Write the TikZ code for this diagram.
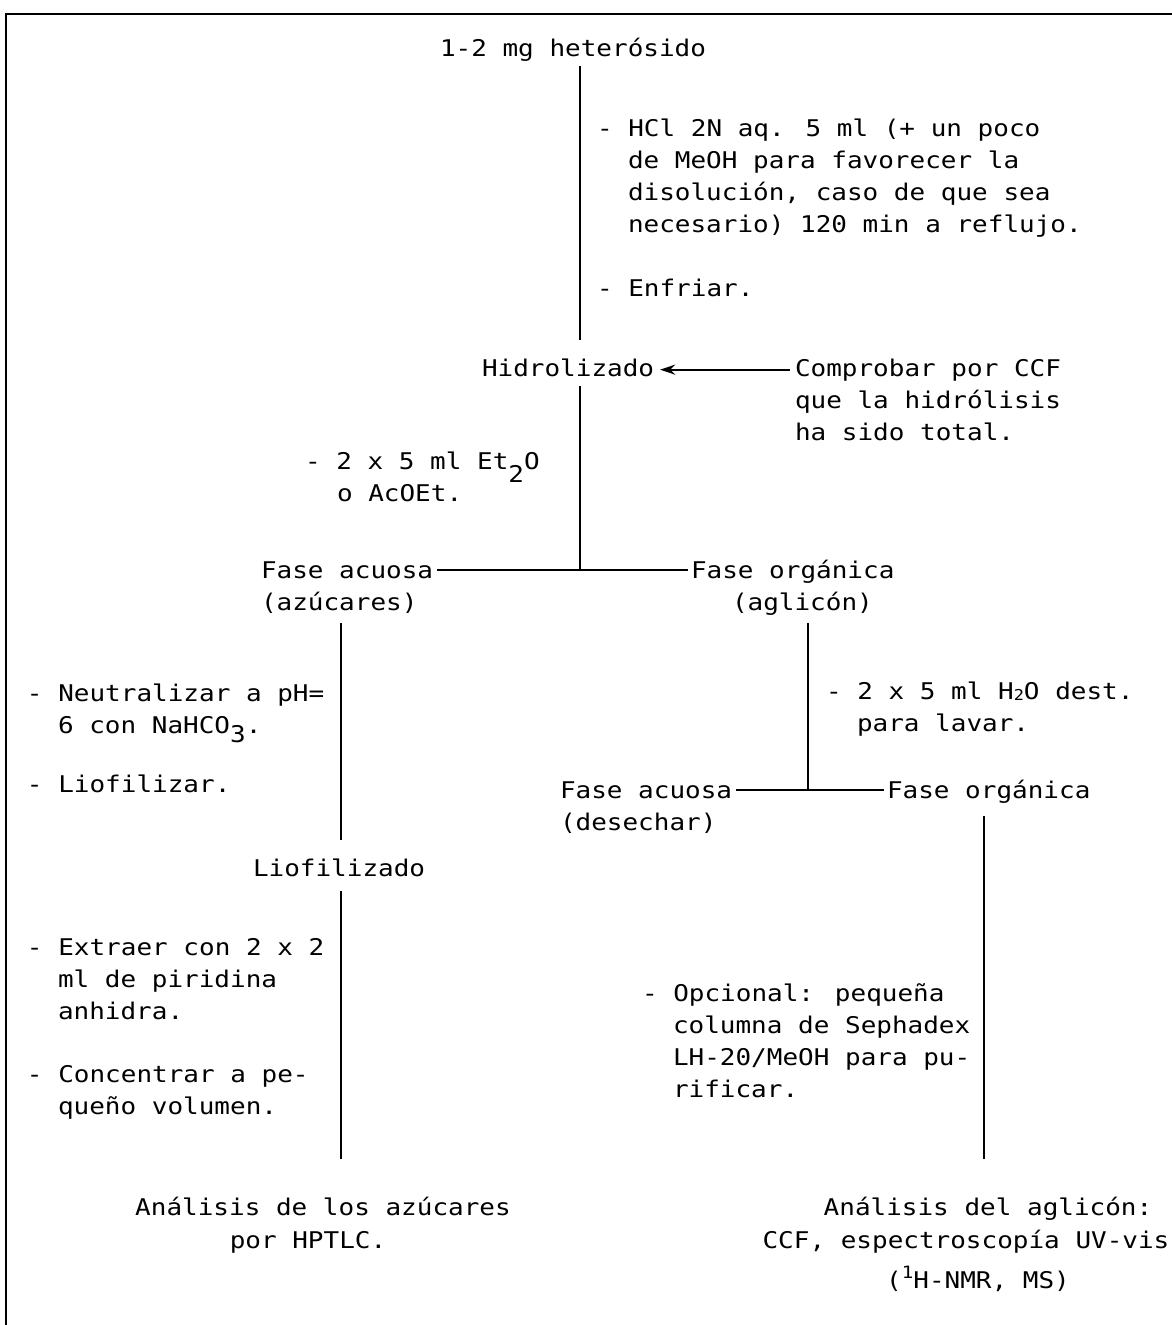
\documentclass[tikz,border=0pt]{standalone}
\usepackage{fontspec}
\newfontfamily\gothicmono[FakeStretch=1.13]{DejaVu Sans Mono}
\usetikzlibrary{arrows.meta,calc}
\begin{document}
\begin{tikzpicture}[x=1pt,y=-1pt,
  txt/.style={font=\gothicmono\fontsize{23}{32}\selectfont, inner sep=0pt, outer sep=0pt, anchor=base west},
  ctxt/.style={txt, anchor=base},
  ln/.style={line width=2.3pt},
  frame/.style={line width=2.8pt},
  arr/.style={line width=2.3pt, -{Stealth[length=15pt,width=10pt]}}]
\useasboundingbox (0,0) rectangle (1172,1325);
\draw[frame] (6,1325) -- (6,14) -- (1172,14);

% junction coordinates
\coordinate (jA) at (580,570);
\coordinate (jB) at (808,790);
\coordinate (lx) at (341,0);
\coordinate (rx) at (984,0);

% top
\node[txt] (title) at (440,56) {1-2 mg heterósido};
\node[txt] (h1) at (597,136) {- HCl 2N aq. 5 ml (+ un poco};
\node[txt] (h2) at (628,168) {de MeOH para favorecer la};
\node[txt] (h3) at (628,200) {disolución, caso de que sea};
\node[txt] (h4) at (628,232) {necesario) 120 min a reflujo.};
\node[txt] (h5) at (597,296) {- Enfriar.};

\node[txt] (hidro) at (482,376) {Hidrolizado};
\node[txt] (c1) at (795,376) {Comprobar por CCF};
\node[txt] (c2) at (795,408) {que la hidrólisis};
\node[txt] (c3) at (795,440) {ha sido total.};

\node[txt] (e1) at (305,469) {- 2 x 5 ml Et\raisebox{-13pt}{2}O};
\node[txt] (e2) at (337,501) {o AcOEt.};

\node[txt] (fa1) at (261,578) {Fase acuosa};
\node[txt] (fa2) at (261,610) {(azúcares)};
\node[txt] (fo1) at (691,578) {Fase orgánica};
\node[txt] (fo2) at (732,610) {(aglicón)};

% left branch
\node[txt] (n1) at (27,701) {- Neutralizar a pH=};
\node[txt] (n2) at (58,733) {6 con NaHCO\raisebox{-9pt}{3}.};
\node[txt] (n3) at (27,792) {- Liofilizar.};
\node[txt] (lio) at (253,876) {Liofilizado};
\node[txt] (x1) at (27,955) {- Extraer con 2 x 2};
\node[txt] (x2) at (58,987) {ml de piridina};
\node[txt] (x3) at (58,1019) {anhidra.};
\node[txt] (x4) at (27,1082) {- Concentrar a pe-};
\node[txt] (x5) at (58,1114) {queño volumen.};
\node[ctxt] (az1) at (323,1215) {Análisis de los azúcares};
\node[ctxt] (az2) at (308,1248) {por HPTLC.};

% right branch
\node[txt] (w1) at (826,699) {- 2 x 5 ml H\raisebox{-1pt}{\fontsize{15}{15}\selectfont 2}O dest.};
\node[txt] (w2) at (857,731) {para lavar.};
\node[txt] (da1) at (560,798) {Fase acuosa};
\node[txt] (da2) at (560,830) {(desechar)};
\node[txt] (do1) at (887,798) {Fase orgánica};
\node[txt] (o1) at (642,1001) {- Opcional: pequeña};
\node[txt] (o2) at (673,1033) {columna de Sephadex};
\node[txt] (o3) at (673,1065) {LH-20/MeOH para pu-};
\node[txt] (o4) at (673,1097) {rificar.};
\node[ctxt] (ag1) at (988,1215) {Análisis del aglicón:};
\node[ctxt] (ag2) at (966,1248) {CCF, espectroscopía UV-vis};
\node[ctxt] (ag3) at (978,1288) {(\raisebox{10pt}{\fontsize{17}{17}\selectfont 1}H-NMR, MS)};

% connectors
\draw[ln] ($(title.south -| jA)+(0,5)$) -- ($(hidro.north -| jA)+(0,-18)$);
\draw[ln] ($(hidro.south -| jA)+(0,10)$) -- (jA);
\draw[ln] ($(fa1.east)+(4,0)$) -- ($(fa1.east -| fo1.west)+(-3,0)$);
\draw[arr] ($(c1.west)+(-5,0)$) -- ($(c1.west -| hidro.east)+(6,0)$);

\draw[ln] ($(fa2.south -| lx)+(0,10)$) -- ($(lio.north -| lx)+(0,-18)$);
\draw[ln] ($(lio.south -| lx)+(0,15)$) -- ($(az1.north -| lx)+(0,-38)$);

\draw[ln] ($(fo2.south -| jB)+(0,8)$) -- (jB);
\draw[ln] ($(da1.east)+(4,0)$) -- ($(da1.east -| do1.west)+(-3,0)$);
\draw[ln] ($(do1.south -| rx)+(0,13)$) -- ($(ag1.north -| rx)+(0,-38)$);
\end{tikzpicture}
\end{document}
